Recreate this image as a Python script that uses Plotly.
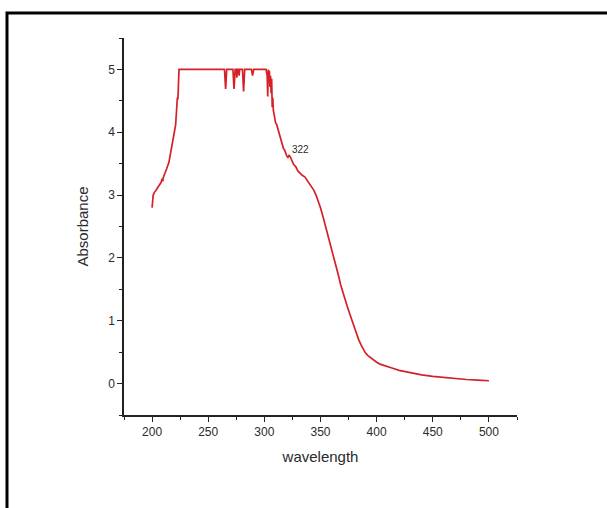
import plotly.graph_objects as go

# UV-Vis absorption spectrum
wavelength = [
    200.0, 200.5, 201.0, 202, 203, 204, 205, 206, 207, 208, 209, 209.5, 210, 211, 212,
    213, 214, 215, 216, 216.5, 217, 218, 219, 220, 221, 221.5, 222, 222.5, 223, 223.5,
    224, 240, 264.5, 265.5, 266.5, 272, 273, 274, 275, 275.5, 276, 277, 277.5, 278,
    280.5, 281.5, 282.5, 288.5, 289.5, 290.5, 301.5, 302.5, 303, 303.5, 304, 304.5,
    305, 305.5, 306, 306.5, 307, 307.5, 308, 309, 310, 311, 312, 313, 314, 315, 316,
    317, 318, 319, 320, 321, 322, 323, 324, 325, 326, 327, 328, 330, 332, 334, 336,
    338, 340, 342, 344, 346, 348, 350, 352, 354, 356, 358, 360, 362, 364, 366, 368,
    370, 372, 374, 376, 378, 380, 382, 384, 386, 388, 390, 392, 394, 396, 398, 400,
    403, 406, 410, 415, 420, 425, 430, 440, 450, 460, 470, 480, 490, 500,
]
absorbance = [
    2.80, 2.88, 3.00, 3.04, 3.06, 3.09, 3.12, 3.15, 3.18, 3.20, 3.26, 3.22, 3.28, 3.32, 3.36,
    3.42, 3.47, 3.52, 3.62, 3.68, 3.66, 3.78, 3.90, 4.02, 4.12, 4.30, 4.45, 4.55, 4.52, 4.75,
    5.0, 5.0, 5.0, 4.69, 5.0, 5.0, 4.69, 5.0, 5.0, 4.87, 5.0, 5.0, 4.90, 5.0,
    5.0, 4.65, 5.0, 5.0, 4.90, 5.0, 5.0, 4.90, 4.57, 5.0, 4.80, 4.98,
    4.72, 4.90, 4.62, 4.85, 4.40, 4.55, 4.35, 4.25, 4.15, 4.12, 4.05, 3.98, 3.93, 3.86, 3.77,
    3.74, 3.72, 3.66, 3.62, 3.60, 3.63, 3.61, 3.56, 3.52, 3.49, 3.47, 3.45, 3.38, 3.34, 3.31, 3.29,
    3.24, 3.19, 3.14, 3.08, 3.00, 2.91, 2.80, 2.67, 2.54, 2.41, 2.28, 2.14, 2.00, 1.86, 1.72, 1.57,
    1.44, 1.33, 1.22, 1.11, 1.00, 0.89, 0.79, 0.70, 0.62, 0.55, 0.49, 0.45, 0.42, 0.39, 0.36, 0.34,
    0.31, 0.29, 0.27, 0.24, 0.21, 0.19, 0.17, 0.14, 0.115, 0.095, 0.08, 0.065, 0.055, 0.045,
]

peak_wavelength = 322
peak_absorbance = absorbance[wavelength.index(peak_wavelength)]

x_ticks = [200, 250, 300, 350, 400, 450, 500]
y_ticks = [0, 1, 2, 3, 4, 5]

W, H = 607, 508
L, R, T, B = 124, 90, 38, 93
pw, ph = W - L - R, H - T - B


def px_to_paper(px, py):
    return (px - L) / pw, (H - B - py) / ph


fx0, fy1 = px_to_paper(7, 13)
fx1, fy0 = px_to_paper(612, 520)

font = "Liberation Sans Narrow, Arial Narrow, Liberation Sans, Arial, sans-serif"
axis_color = "#222222"
text_color = "#2a2a2a"

fig = go.Figure()
fig.add_trace(go.Scatter(
    x=wavelength, y=absorbance, mode="lines",
    line=dict(color="#d42127", width=1.7),
    showlegend=False,
))

fig.add_annotation(
    x=peak_wavelength, y=peak_absorbance + 0.1, text=str(peak_wavelength),
    showarrow=False, xanchor="left", yanchor="middle", xshift=1,
    font=dict(family=font, size=10, color=text_color),
)

fig.add_shape(
    type="rect", xref="paper", yref="paper",
    x0=fx0, x1=fx1, y0=fy0, y1=fy1,
    line=dict(color="black", width=3), fillcolor="rgba(0,0,0,0)",
)

fig.update_layout(
    width=W, height=H,
    margin=dict(l=L, r=R, t=T, b=B, autoexpand=False),
    paper_bgcolor="white", plot_bgcolor="white",
    font=dict(family=font, color=text_color),
)
fig.update_xaxes(
    range=[175, 525], tickmode="array", tickvals=x_ticks,
    ticks="outside", ticklen=5, tickwidth=1.3, tickcolor=axis_color,
    showline=True, linecolor=axis_color, linewidth=1.5,
    showgrid=False, zeroline=False,
    tickfont=dict(size=12, color=text_color),
    minor=dict(ticks="outside", ticklen=3, tickwidth=1, tickcolor=axis_color,
               tickmode="array", tickvals=[175, 225, 275, 325, 375, 425, 475, 525]),
    title=dict(text="wavelength", font=dict(size=15, color=text_color), standoff=13),
    automargin=False,
)
fig.update_yaxes(
    range=[-0.5, 5.5], tickmode="array", tickvals=y_ticks,
    ticks="outside", ticklen=5, tickwidth=1.3, tickcolor=axis_color,
    showline=True, linecolor=axis_color, linewidth=1.5,
    showgrid=False, zeroline=False,
    tickfont=dict(size=12, color=text_color),
    minor=dict(ticks="outside", ticklen=3, tickwidth=1, tickcolor=axis_color,
               tickmode="array", tickvals=[-0.5, 0.5, 1.5, 2.5, 3.5, 4.5, 5.5]),
    title=dict(text="Absorbance", font=dict(size=15, color=text_color), standoff=16),
    automargin=False,
)

fig.write_html("out.html")
